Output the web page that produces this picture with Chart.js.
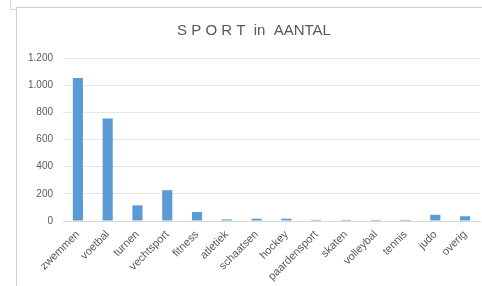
<!DOCTYPE html>
<html lang="nl">
<head>
  <meta charset="UTF-8" />
  <title>SPORT in AANTAL</title>
  <script src="https://cdn.jsdelivr.net/npm/chart.js"></script>
  <style>
    body {
      margin: 0;
      background: #ffffff;
      width: 482px;
      height: 286px;
      overflow: hidden;
      position: relative;
    }
    /* chart frame lines */
    .frame {
      position: absolute;
      left: 16px;
      top: 7px;
      right: -2px;
      bottom: -2px;
      border-top: 1px solid #d0d0d0;
      border-left: 1px solid #d0d0d0;
    }
    .corner {
      position: absolute;
      left: 10px;
      top: -2px;
      width: 6px;
      height: 11px;
      border-left: 1px solid #d8d8d8;
      border-bottom: 1px solid #d8d8d8;
    }
    .wrap {
      position: absolute;
      left: 0;
      top: 0;
      width: 482px;
      height: 286px;
    }
  </style>
</head>
<body>
  <div class="corner"></div>
  <div class="frame"></div>
  <div class="wrap"><canvas id="sportChart"></canvas></div>

  <script>
    // sports and number of members
    const sporten = ['zwemmen', 'voetbal', 'turnen', 'vechtsport', 'fitness', 'atletiek', 'schaatsen',
      'hockey', 'paardensport', 'skaten', 'volleybal', 'tennis', 'judo', 'overig'];
    const aantallen = [1052, 755, 115, 227, 66, 12, 17, 17, 8, 8, 8, 8, 46, 35];

    const yMax = 1200;
    const yStep = 200;

    const grijs = '#595959';

    new Chart(document.getElementById('sportChart'), {
      type: 'bar',
      data: {
        labels: sporten,
        datasets: [{
          label: 'aantal',
          data: aantallen,
          backgroundColor: '#5b9bd5',
          borderWidth: 0,
          categoryPercentage: 1,
          barPercentage: 0.34
        }]
      },
      options: {
        responsive: true,
        maintainAspectRatio: false,
        animation: false,
        layout: {
          padding: { left: 28, right: 2, top: 22, bottom: 1 }
        },
        plugins: {
          legend: { display: false },
          tooltip: { enabled: false },
          title: {
            display: true,
            text: 'S P O R T  in  AANTAL',
            color: grijs,
            font: { family: 'Liberation Sans', size: 15, weight: 'normal' },
            padding: { top: 0, bottom: 18 }
          }
        },
        scales: {
          x: {
            grid: { display: false, drawTicks: false },
            border: { color: '#d9d9d9' },
            // fixed label band so the plot ends where the original does
            afterFit: axis => { axis.height = 64; },
            ticks: {
              color: grijs,
              font: { family: 'Liberation Sans', size: 11 },
              maxRotation: 45,
              minRotation: 45,
              autoSkip: false,
              padding: 7
            }
          },
          y: {
            min: 0,
            max: yMax,
            grid: { color: '#e6e6e6', drawTicks: false },
            border: { display: false },
            afterFit: axis => { axis.width = 35; },
            ticks: {
              stepSize: yStep,
              color: grijs,
              font: { family: 'Liberation Sans', size: 10 },
              padding: 10,
              callback: v => v.toLocaleString('nl-NL')
            }
          }
        }
      }
    });
  </script>
</body>
</html>
